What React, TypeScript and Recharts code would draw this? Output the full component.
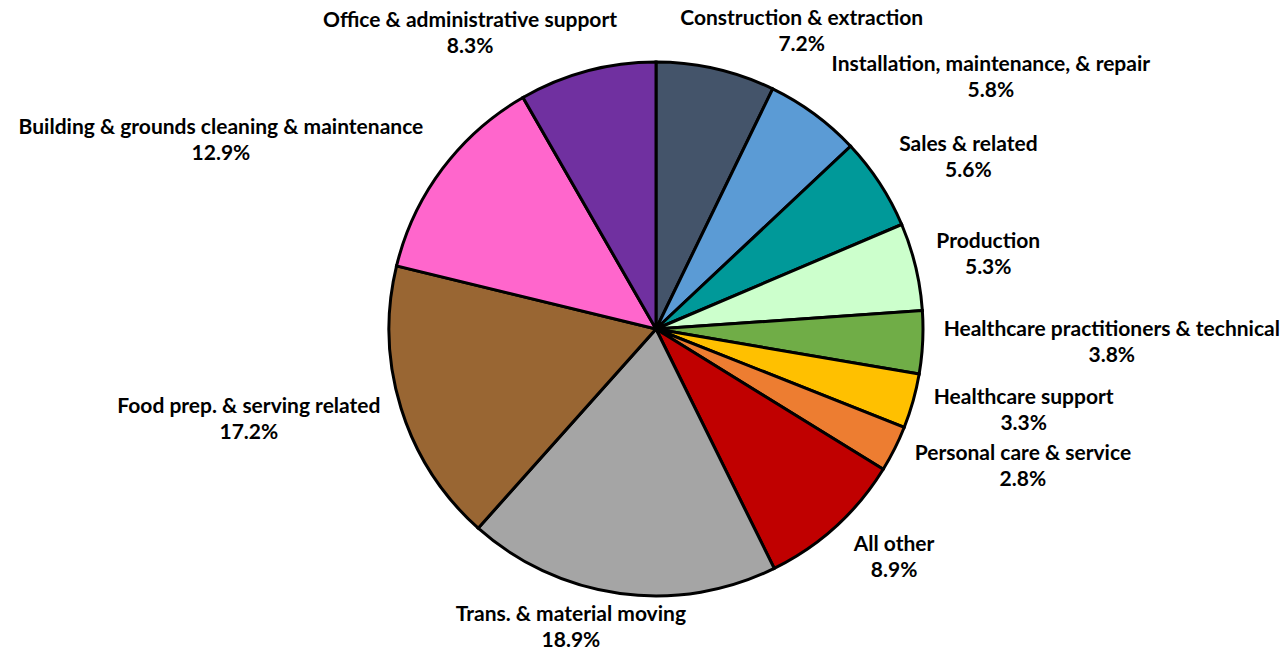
import React from 'react';
import { PieChart, Pie, Cell } from 'recharts';

const categories = [
  'Construction & extraction',
  'Installation, maintenance, & repair',
  'Sales & related',
  'Production',
  'Healthcare practitioners & technical',
  'Healthcare support',
  'Personal care & service',
  'All other',
  'Trans. & material moving',
  'Food prep. & serving related',
  'Building & grounds cleaning & maintenance',
  'Office & administrative support',
];

const shares = [7.2, 5.8, 5.6, 5.3, 3.8, 3.3, 2.8, 8.9, 18.9, 17.2, 12.9, 8.3];

const colors = [
  '#44546A', '#5B9BD5', '#009999', '#CCFFCC', '#70AD47', '#FFC000',
  '#ED7D31', '#C00000', '#A5A5A5', '#996633', '#FF66CC', '#7030A0',
];

const data = categories.map((name, i) => ({ name, value: shares[i] }));

const FONT = '700 21px Lato';
const RAD = Math.PI / 180;

let ctx: CanvasRenderingContext2D | null = null;
const textWidth = (s: string) => {
  if (!ctx) ctx = document.createElement('canvas').getContext('2d');
  if (!ctx) return s.length * 10;
  ctx.font = FONT;
  return ctx.measureText(s).width;
};

const clamp = (v: number) => Math.max(-1, Math.min(1, v));

// label box sits just outside the slice edge, pushed away from the pie like Excel's "outside end"
const renderLabel = (props: any) => {
  const { cx, cy, midAngle, outerRadius, name, value } = props;
  const dx = Math.cos(-midAngle * RAD);
  const dy = Math.sin(-midAngle * RAD);
  const r = outerRadius + 9;
  const px = cx + r * dx;
  const py = cy + r * dy;
  const halfW = Math.max(textWidth(name), textWidth(`${value.toFixed(1)}%`)) / 2 + 12;
  const halfH = 27;
  const lx = px + halfW * clamp(2.8 * dx);
  const ly = py + halfH * clamp(1.3 * dy) - 4;
  const style = { fontFamily: 'Lato', fontWeight: 700, fontSize: 21, fill: '#000' };
  return (
    <g>
      <text x={lx} y={ly - 13} textAnchor="middle" dominantBaseline="central" style={style}>
        {name}
      </text>
      <text x={lx} y={ly + 13} textAnchor="middle" dominantBaseline="central" style={style}>
        {`${value.toFixed(1)}%`}
      </text>
    </g>
  );
};

const App = () => {
  return (
    <div style={{ position: 'absolute', left: 0, top: 0, background: '#fff' }}>
      <PieChart width={1282} height={649}>
        <Pie
          data={data}
          dataKey="value"
          nameKey="name"
          cx={651}
          cy={324}
          outerRadius={267}
          startAngle={90}
          endAngle={-270}
          stroke="#000"
          strokeWidth={3}
          label={renderLabel}
          labelLine={false}
          isAnimationActive={false}
        >
          {data.map((d, i) => (
            <Cell key={d.name} fill={colors[i]} />
          ))}
        </Pie>
      </PieChart>
    </div>
  );
};

export default App;
